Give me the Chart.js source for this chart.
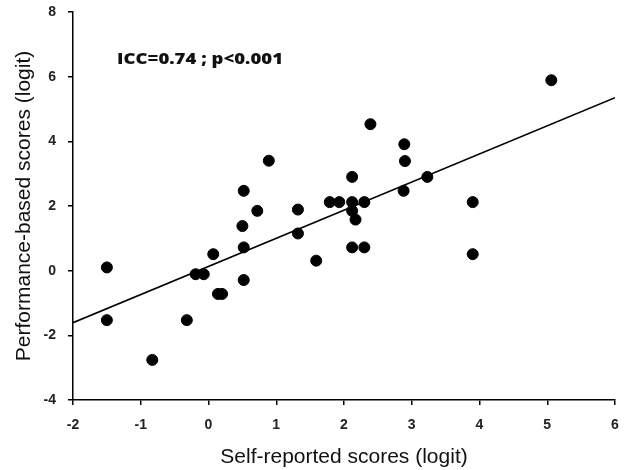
<!DOCTYPE html>
<html>
<head>
<meta charset="utf-8">
<script src="https://cdn.jsdelivr.net/npm/chart.js@4/dist/chart.umd.min.js"></script>
<style>
  html, body { margin: 0; padding: 0; background: #fff; }
  #wrap { width: 625px; height: 470px; }
</style>
</head>
<body>
<div id="wrap"><canvas id="c" width="625" height="470"></canvas></div>
<script>
// Self-reported (x) vs performance-based (y) scores, in logits
const selfReported = [-1.50, -1.50, -0.83, -0.32, -0.19, -0.07, 0.07, 0.14, 0.20, 0.52, 0.50, 0.52, 0.52, 0.72, 0.89, 1.32, 1.32, 1.59, 1.79, 1.93, 2.12, 2.12, 2.12, 2.17, 2.12, 2.30, 2.30, 2.39, 2.89, 2.90, 2.88, 3.23, 3.90, 3.90, 5.06];
const performanceBased = [0.10, -1.53, -2.76, -1.53, -0.11, -0.11, 0.51, -0.72, -0.72, 2.47, 1.38, 0.72, -0.29, 1.85, 3.40, 1.89, 1.15, 0.31, 2.12, 2.12, 2.90, 2.12, 1.85, 1.58, 0.72, 2.12, 0.72, 4.53, 3.91, 3.39, 2.47, 2.90, 2.12, 0.51, 5.89];
const trendX = [-2, 6];
const trendY = [-1.61, 5.35];
const xTicks = [-2, -1, 0, 1, 2, 3, 4, 5, 6];
const yTicks = [-4, -2, 0, 2, 4, 6, 8];
const annotationText = 'ICC=0.74 ; p<0.001';
const annotationAt = { x: -1.35, y: 6.52 };

const points = selfReported.map((x, i) => ({ x: x, y: performanceBased[i] }));
const trend = trendX.map((x, i) => ({ x: x, y: trendY[i] }));

const annotationPlugin = {
  id: 'iccText',
  afterDatasetsDraw(chart) {
    const { ctx, scales } = chart;
    ctx.save();
    ctx.font = '800 15px "Open Sans", Lato, sans-serif';
    ctx.fillStyle = '#111';
    ctx.textAlign = 'left';
    ctx.textBaseline = 'middle';
    const w = ctx.measureText(annotationText).width;
    const targetW = 166;
    const px = scales.x.getPixelForValue(annotationAt.x);
    const py = scales.y.getPixelForValue(annotationAt.y);
    ctx.translate(px, py);
    ctx.scale(targetW / w, 1);
    ctx.fillText(annotationText, 0, 0);
    ctx.restore();
  }
};

const tickFont = { family: '"Liberation Sans", Arial, sans-serif', size: 14, weight: 'bold' };
const titleFont = { family: '"Liberation Sans", Arial, sans-serif', size: 21 };

new Chart(document.getElementById('c'), {
  type: 'scatter',
  data: {
    datasets: [
      {
        label: 'Scores',
        data: points,
        backgroundColor: '#000',
        borderColor: '#000',
        pointRadius: 5.5,
        pointHoverRadius: 5.5,
        order: 1
      },
      {
        type: 'line',
        label: 'Fit',
        data: trend,
        borderColor: '#000',
        borderWidth: 1.6,
        pointRadius: 0,
        fill: false,
        order: 2
      }
    ]
  },
  options: {
    responsive: false,
    animation: false,
    events: [],
    layout: { padding: { left: 0, right: 10, top: 12, bottom: 0 } },
    plugins: { legend: { display: false }, tooltip: { enabled: false } },
    scales: {
      x: {
        type: 'linear',
        min: xTicks[0],
        max: xTicks[xTicks.length - 1],
        afterBuildTicks: (s) => { s.ticks = xTicks.map(v => ({ value: v })); },
        afterFit: (s) => { s.height = 70; s.paddingLeft = 0; s.paddingRight = 0; },
        grid: { display: true, drawOnChartArea: false, drawTicks: true, tickLength: 5, color: '#000', lineWidth: 1.5 },
        border: { display: true, color: '#000', width: 1.5 },
        ticks: { color: '#222', font: tickFont, padding: 12, maxRotation: 0 },
        title: { display: true, text: 'Self-reported scores (logit)', color: '#111', font: titleFont, padding: { top: 0, bottom: 0 } }
      },
      y: {
        type: 'linear',
        min: yTicks[0],
        max: yTicks[yTicks.length - 1],
        afterBuildTicks: (s) => { s.ticks = yTicks.map(v => ({ value: v })); },
        afterFit: (s) => { s.width = 73; s.paddingTop = 0; s.paddingBottom = 0; },
        grid: { display: true, drawOnChartArea: false, drawTicks: true, tickLength: 5, color: '#000', lineWidth: 1.5 },
        border: { display: true, color: '#000', width: 1.5 },
        ticks: { color: '#222', font: tickFont, padding: 12 },
        title: { display: true, text: 'Performance-based scores (logit)', color: '#111', font: titleFont, padding: { top: 12, bottom: 0 } }
      }
    }
  },
  plugins: [annotationPlugin]
});
</script>
</body>
</html>
